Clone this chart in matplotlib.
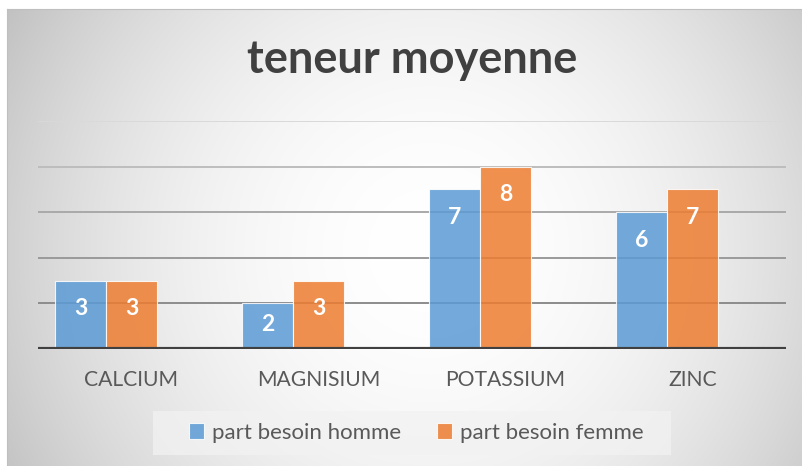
import numpy as np
import matplotlib
matplotlib.use("Agg")
import matplotlib.pyplot as plt
import matplotlib.transforms as mtrans
from matplotlib.patches import Rectangle

# ---- data ----
categories = ["CALCIUM", "MAGNISIUM", "POTASSIUM", "ZINC"]
homme = [3, 2, 7, 6]
femme = [3, 3, 8, 7]
series_names = ["part besoin homme", "part besoin femme"]
title = "teneur moyenne"

W, H = 803, 466
DPI = 100
plt.rcParams['font.family'] = ['Lato', 'DejaVu Sans']

fig = plt.figure(figsize=(W / DPI, H / DPI), dpi=DPI)
fig.patch.set_facecolor("white")

# ---- background radial gradient (chart area) ----
bg = fig.add_axes([0, 0, 1, 1], zorder=-10)
bg.set_xlim(0, W); bg.set_ylim(H, 0); bg.axis("off")
yy, xx = np.mgrid[0:H, 0:W]
cx, cy, R = 430, 250, 500
d = np.sqrt((xx - cx) ** 2 + (yy - cy) ** 2) / R
d = np.clip(d, 0, 1)
g = 1.0 - (1.0 - 190 / 255) * d ** 2
img = np.dstack([g, g, g])
img[:, :7] = 1.0
img[:9, :] = 1.0
bg.imshow(img, extent=(0, W, H, 0), aspect="auto", interpolation="bilinear")
bg.plot([7, 7], [9, H], color="#bfbfbf", lw=0.8)
bg.plot([7, W], [9, 9], color="#bfbfbf", lw=0.8)

# ---- main axes ----
left, right, top, bottom = 38, 786, 121, 349
ax = fig.add_axes([left / W, 1 - bottom / H, (right - left) / W, (bottom - top) / H])
ax.set_facecolor("none")
ax.set_xlim(-0.5, len(categories) - 0.5)
ax.set_ylim(0, 10)
for s in ax.spines.values():
    s.set_visible(False)
ax.set_yticks([])
ax.tick_params(axis="x", length=0)
ax.set_xticks(range(len(categories)))
ax.set_xticklabels([])

grid_colors = {2: "#8c8c8c", 4: "#9a9a9a", 6: "#a9a9a9", 8: "#bdbdbd", 10: "#d9d9d9"}
for v, c in grid_colors.items():
    ax.axhline(v, color=c, lw=1.4, zorder=1)
ax.axhline(0, color="#404040", lw=3.0, zorder=4)

w = 51 / 187.0
x = np.arange(len(categories))
blue = (91 / 255, 155 / 255, 213 / 255)
orange = (237 / 255, 125 / 255, 49 / 255)
b1 = ax.bar(x - w, homme, width=w, color=blue, alpha=0.85, edgecolor=(1, 1, 1, 0.7),
            lw=0.8, zorder=2, label=series_names[0])
b2 = ax.bar(x, femme, width=w, color=orange, alpha=0.85, edgecolor=(1, 1, 1, 0.7),
            lw=0.8, zorder=2, label=series_names[1])

px_per_unit = (bottom - top) / 10.0
for bars, vals in ((b1, homme), (b2, femme)):
    for r, v in zip(bars, vals):
        hpx = v * px_per_unit
        off = min(28, hpx / 2 - 2)
        ax.annotate(str(v), (r.get_x() + r.get_width() / 2, v), xytext=(0, -off * 72 / DPI),
                    textcoords="offset points", ha="center", va="center",
                    color="white", fontsize=16.5, fontweight="bold", zorder=5)

# category labels
lab_tr = ax.transData + mtrans.ScaledTranslation(0, -(380 - bottom) / DPI, fig.dpi_scale_trans)
for xi, c in zip(x, categories):
    ax.text(xi, 0, c, transform=lab_tr, ha="center", va="center",
            fontsize=15.2, color="#595959")

# title
fig.text(412 / W, 1 - 60 / H, title, ha="center", va="center", fontsize=32.5,
         fontweight="bold", color="#404040")

# legend box
fig.patches.append(Rectangle((153 / W, 1 - 455 / H), (671 - 153) / W, 44 / H,
                             transform=fig.transFigure, facecolor=(0.95, 0.95, 0.95, 0.75),
                             edgecolor="none", zorder=-5))
leg = fig.legend(handles=[b1, b2], labels=series_names, loc="center",
                 bbox_to_anchor=(416 / W, 1 - 433 / H), ncol=2, frameon=False,
                 fontsize=16, handlelength=0.7, handleheight=0.7, handletextpad=0.35,
                 columnspacing=1.6, labelcolor="#595959")

fig.savefig("out.png", dpi=DPI, facecolor="white")
